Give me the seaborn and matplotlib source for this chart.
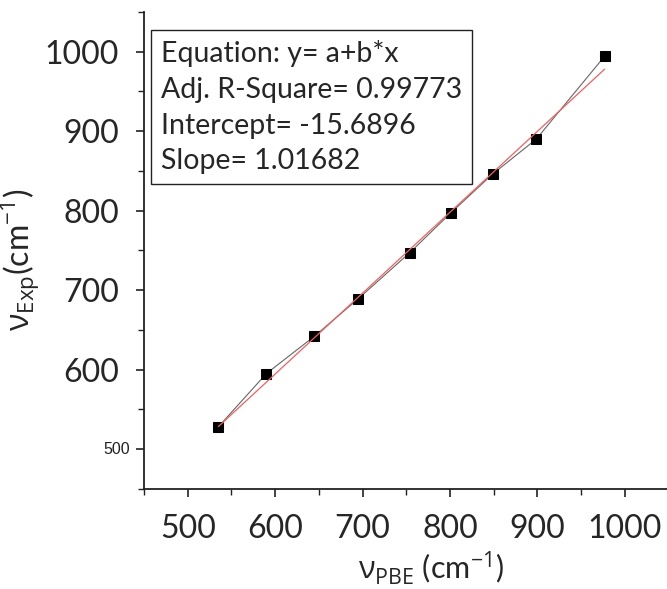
import numpy as np
import pandas as pd
import matplotlib
matplotlib.use("Agg")
import matplotlib.pyplot as plt
import seaborn as sns
from matplotlib.ticker import MultipleLocator
from matplotlib.transforms import blended_transform_factory

# Data
nu_pbe = [535, 590, 645, 695, 754, 801, 849, 899, 977]
nu_exp = [528, 595, 642, 689, 747, 797, 846, 890, 994]
intercept = -15.6896
slope = 1.01682
box_lines = ["Equation: y= a+b*x", "Adj. R-Square= 0.99773",
             "Intercept= -15.6896", "Slope= 1.01682"]
x_ticks = [500, 600, 700, 800, 900, 1000]
y_ticks = [500, 600, 700, 800, 900, 1000]

sns.set_theme(style="ticks")
plt.rcParams['font.family'] = ['Lato', 'DejaVu Sans']
plt.rcParams['mathtext.fontset'] = 'custom'
plt.rcParams['mathtext.rm'] = 'Open Sans'
plt.rcParams['mathtext.it'] = 'Open Sans'

fig = plt.figure(figsize=(6.67, 5.89), dpi=100)
ax = fig.add_axes([0.216, 0.170, 0.786, 0.810])

df = pd.DataFrame({"pbe": nu_pbe, "exp": nu_exp})
fit_x = np.array([nu_pbe[0], nu_pbe[-1]])
fit_df = pd.DataFrame({"x": fit_x, "y": intercept + slope * fit_x})

sns.lineplot(data=df, x="pbe", y="exp", ax=ax, color="#666666", lw=0.8,
             marker="s", markersize=7.5, markerfacecolor="black",
             markeredgecolor="black", sort=False, zorder=3)
sns.lineplot(data=fit_df, x="x", y="y", ax=ax, color="#f06060", lw=0.9, zorder=4)

ax.set_xlim(450, 1050)
ax.set_ylim(450, 1050)
ax.set_xticks(x_ticks)
ax.set_yticks(y_ticks)
ax.xaxis.set_minor_locator(MultipleLocator(50))
ax.yaxis.set_minor_locator(MultipleLocator(50))
ax.tick_params(axis="both", which="major", length=6, width=1.2, color="#222222",
               labelsize=23, pad=12)
ax.tick_params(axis="both", which="minor", length=4, width=1.0, color="#222222")
# first y label (500) is drawn small and closer to the axis, as in the reference
ax.set_yticklabels([""] + [str(v) for v in y_ticks[1:]])
trans = blended_transform_factory(ax.transAxes, ax.transData)
ax.text(-0.026, y_ticks[0], str(y_ticks[0]), transform=trans, ha="right",
        va="center", fontsize=11.5, family="Liberation Sans", color="#222222")

for s in ["top", "right"]:
    ax.spines[s].set_visible(False)
for s in ["left", "bottom"]:
    ax.spines[s].set_linewidth(1.3)
    ax.spines[s].set_color("#222222")

ax.set_xlabel(r"$\mathrm{\nu}_{\mathrm{PBE}}$ (cm$^{\mathrm{-1}}$)", fontsize=22)
ax.xaxis.set_label_coords(0.547, -0.127)
ax.set_ylabel(r"$\mathrm{\nu}_{\mathrm{Exp}}$(cm$^{\mathrm{-1}}$)", fontsize=23)
ax.yaxis.set_label_coords(-0.195, 0.48)

ax.text(0.032, 0.94, "\n".join(box_lines), transform=ax.transAxes,
        fontsize=20.5, va="top", ha="left", linespacing=1.46,
        bbox=dict(boxstyle="square,pad=0.35", facecolor="white",
                  edgecolor="#222222", linewidth=1.0), zorder=5)

fig.savefig("out.png", dpi=100)
